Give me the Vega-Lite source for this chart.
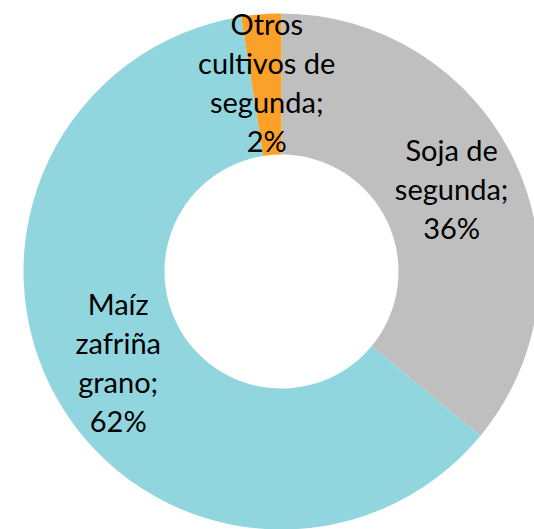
{
  "$schema": "https://vega.github.io/schema/vega-lite/v6.json",
  "width": 505,
  "height": 515,
  "autosize": {"type": "none"},
  "padding": {"left": 29, "top": 14, "right": 0, "bottom": 0},
  "background": "white",
  "config": {"view": {"stroke": null}},
  "data": {
    "values": [
      {"cultivo": "Soja de segunda", "valor": 36.0, "orden": 1, "label": ["Soja de", "segunda;", "36%"]},
      {"cultivo": "Maíz zafriña grano", "valor": 61.5, "orden": 2, "label": ["Maíz", "zafriña", "grano;", "62%"]},
      {"cultivo": "Otros cultivos de segunda", "valor": 2.5, "orden": 3, "label": ["Otros", "cultivos de", "segunda;", "2%"]}
    ]
  },
  "encoding": {
    "theta": {"field": "valor", "type": "quantitative", "stack": true},
    "order": {"field": "orden", "type": "quantitative"}
  },
  "layer": [
    {
      "mark": {"type": "arc", "outerRadius": 258, "innerRadius": 117},
      "encoding": {
        "color": {
          "field": "cultivo",
          "type": "nominal",
          "scale": {
            "domain": ["Soja de segunda", "Maíz zafriña grano", "Otros cultivos de segunda"],
            "range": ["#BFBFBF", "#91D5DE", "#FBA12A"]
          },
          "legend": null
        }
      }
    },
    {
      "mark": {
        "type": "text",
        "radius": 188,
        "font": "Lato",
        "fontSize": 29,
        "lineHeight": 39,
        "color": "#000000",
        "align": "center",
        "baseline": "middle",
        "dy": {"expr": "-(length(datum.label) - 1) * 19.5"}
      },
      "encoding": {
        "text": {"field": "label"}
      }
    }
  ]
}
